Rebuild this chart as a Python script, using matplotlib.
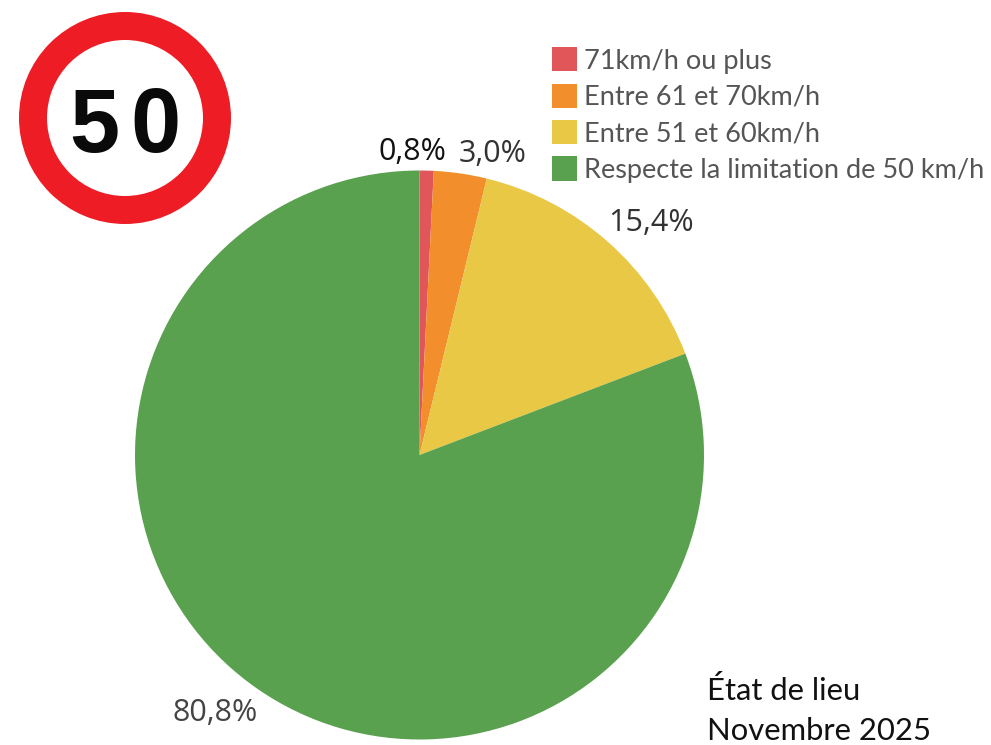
import matplotlib
matplotlib.use('Agg')
import matplotlib.pyplot as plt
from matplotlib.patches import Circle

categories = ['71km/h ou plus', 'Entre 61 et 70km/h', 'Entre 51 et 60km/h',
              'Respecte la limitation de 50 km/h']
values = [0.8, 3.0, 15.4, 80.8]
colors = ['#e15759', '#f28e2b', '#e9c845', '#59a14f']
label_pos = [(412, 152), (493, 154), (651, 223), (215, 713)]
label_colors = ['#111111', '#333333', '#333333', '#444444']

W, H = 991, 745

fig = plt.figure(figsize=(W / 100, H / 100), dpi=100)
ax = fig.add_axes([0, 0, 1, 1])

wedges, _ = ax.pie(values, colors=colors, startangle=90, counterclock=False,
                   center=(419.5, H - 455), radius=284.5, frame=True)
ax.set_xlim(0, W)
ax.set_ylim(0, H)
ax.set_aspect('equal')
ax.axis('off')

# percent labels
for v, (x, y), c in zip(values, label_pos, label_colors):
    txt = f'{v:.1f}%'.replace('.', ',')
    ax.text(x, H - y, txt, fontsize=22, family='Open Sans', color=c,
            ha='center', va='center')

leg = ax.legend(wedges, categories, loc='upper left',
                bbox_to_anchor=(544 / W, 1 - 39 / H), frameon=False,
                prop={'family': 'Lato', 'size': 19.5},
                labelcolor='#555555', handlelength=0.9, handleheight=1.0,
                handletextpad=0.26, labelspacing=0.37, borderpad=0.3,
                borderaxespad=0)

# speed limit sign
ax.add_patch(Circle((125, H - 118), 106, color='#ee1c25', lw=0))
ax.add_patch(Circle((125, H - 118), 78, color='white', lw=0))
ax.text(94, H - 119, '5', fontsize=65, family='Liberation Sans',
        weight='bold', color='#0a0a0a', ha='center', va='center_baseline')
ax.text(155, H - 119, '0', fontsize=65, family='Liberation Sans',
        weight='bold', color='#0a0a0a', ha='center', va='center_baseline')

ax.text(707, H - 691, 'État de lieu', fontsize=22.3, family='Lato', color='#111111',
        ha='left', va='center')
ax.text(707, H - 731, 'Novembre 2025', fontsize=22.3, family='Lato', color='#111111',
        ha='left', va='center')

fig.savefig('out.png', dpi=100)
